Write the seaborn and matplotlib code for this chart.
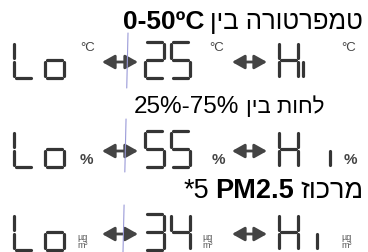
import matplotlib
matplotlib.use("Agg")
import matplotlib.pyplot as plt
import seaborn as sns
from matplotlib.patches import FancyArrowPatch

sns.set_theme(style="white")
plt.rcParams["font.family"] = ["Liberation Sans", "DejaVu Sans"]

# ---------------------------------------------------------------------------
# Data
# ---------------------------------------------------------------------------
# headings: visual pieces left->right (Hebrew pieces reversed when drawn)
headings = [
    [("0-50ºC", "bold"), ("טמפרטורה בין", "normal")],
    [("25%-75%", "normal"), ("לחות בין", "normal")],
    [("*5", "normal"), ("PM2.5", "bold"), ("מרכוז", "normal")],
]
lo_text = ["Lo", "Lo", "Lo"]
values = ["25", "55", "34"]
hi_text = ["Hi", "Hi", "Hi"]
units = ["°C", "%", "µg\nm³"]

# seven-segment map
segments = {
    "L": "fed", "o": "gcde", "H": "febcg", "i": "e",
    "2": "abged", "3": "abgcd", "4": "fgbc", "5": "afgcd",
}

# ---------------------------------------------------------------------------
# Layout (pixels, origin top-left)
# ---------------------------------------------------------------------------
W, H = 368, 252
head_right = [363, 324, 363]
head_base = [29, 113, 198]
latin_size = [19, 17.5, 19.5]
hebrew_size = [18.5, 16, 19.5]
row_top = [42, 131, 214]
dig_h = 36
dig_w = 19
lo_x = [14, 45]
val_x = [145, 171]
hi_x = 279
i_x = [303, 330, 317]
arrow_x = [(102, 138), (232, 267)]
unit_x = [[80, 209, 341], [80, 212, 344], [77, 202, 341]]
seg_color = "#353535"

fig = plt.figure(figsize=(W / 100, H / 100), dpi=100)
ax = fig.add_axes([0, 0, 1, 1])
ax.set_xlim(0, W)
ax.set_ylim(H, 0)
ax.axis("off")


def is_hebrew(s):
    return any("\u0590" <= c <= "\u05ff" for c in s)


def draw_char(ch, x0, top):
    g = 1.6
    mid = top + dig_h / 2
    bot = top + dig_h
    x1 = x0 + dig_w
    pos = {
        "a": ([x0 + g, x1 - g], [top, top]),
        "b": ([x1, x1], [top + g, mid - g]),
        "c": ([x1, x1], [mid + g, bot - g]),
        "d": ([x0 + g, x1 - g], [bot, bot]),
        "e": ([x0, x0], [mid + g, bot - g]),
        "f": ([x0, x0], [top + g, mid - g]),
        "g": ([x0 + g, x1 - g], [mid, mid]),
    }
    for s in segments[ch]:
        xs, ys = pos[s]
        ax.plot(xs, ys, color=seg_color, lw=2.3, solid_capstyle="round")


def draw_arrow(xa, xb, y):
    ar = FancyArrowPatch((xa, y), (xb, y),
                         arrowstyle="<|-|>,head_length=0.75,head_width=0.42",
                         mutation_scale=10, color="#444444", lw=2.0,
                         shrinkA=0, shrinkB=0)
    ax.add_patch(ar)


# faint vertical guide line
line_spans = [(33, 88), (119, 172), (205, 252)]
for y0, y1 in line_spans:
    xa = 128 - 5 * (y0 - 33) / (252 - 33)
    xb = 128 - 5 * (y1 - 33) / (252 - 33)
    ax.plot([xa, xb], [y0, y1], color="#9a9ad8", lw=0.8)

fig.canvas.draw()
renderer = fig.canvas.get_renderer()
inv = ax.transData.inverted()

for r in range(3):
    # heading, placed right to left
    xr = head_right[r]
    for txt, wt in reversed(headings[r]):
        heb = is_hebrew(txt)
        t = ax.text(xr, head_base[r], txt[::-1] if heb else txt,
                    ha="right", va="baseline",
                    fontsize=hebrew_size[r] if heb else latin_size[r],
                    fontweight=wt, color="black")
        bb = t.get_window_extent(renderer)
        xl = inv.transform((bb.x0, bb.y0))[0]
        xr = xl - 6

    top = row_top[r]
    for ch, x in zip(lo_text[r], lo_x):
        draw_char(ch, x, top)
    for ch, x in zip(values[r], val_x):
        draw_char(ch, x, top)
    draw_char(hi_text[r][0], hi_x, top)
    draw_char(hi_text[r][1], i_x[r], top)

    ymid = top + dig_h / 2 + 2
    for xa, xb in arrow_x:
        draw_arrow(xa, xb, ymid)

    for ux in unit_x[r]:
        if r == 0:
            ax.text(ux, top, units[r], ha="left", va="top", fontsize=9.5,
                    color="#444444")
        elif r == 1:
            ax.text(ux, top + dig_h, units[r], ha="left", va="bottom",
                    fontsize=11, fontweight="bold", color="#444444")
        else:
            ax.text(ux, top + dig_h, units[r], ha="left", va="bottom",
                    fontsize=6.5, color="#555555", linespacing=0.85)

fig.savefig("out.png", dpi=100)
